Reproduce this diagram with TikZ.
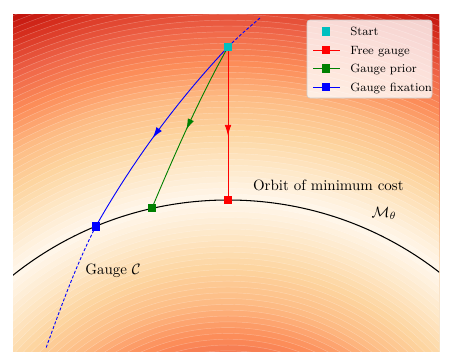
\documentclass[tikz,border=0pt]{standalone}
\usetikzlibrary{arrows.meta,decorations.markings}
\pgfdeclarelayer{bg}
\pgfdeclarelayer{lines}
\pgfsetlayers{bg,lines,main}
\definecolor{mblue}{RGB}{0,0,255}
\definecolor{mgreen}{RGB}{0,128,0}
\definecolor{mred}{RGB}{255,0,0}
\definecolor{mcyan}{RGB}{0,191,191}
\definecolor{legborder}{RGB}{204,204,204}
\newcommand\myorrd[2]{%
  \pgfmathsetmacro\myT{min(max(#1,0),0.9999)*8}%
  \pgfmathtruncatemacro\myI{floor(\myT)}%
  \pgfmathsetmacro\myF{\myT-\myI}%
  \pgfmathtruncatemacro\myR{round({255,254,253,253,252,239,215,179,127}[\myI]*(1-\myF)+{255,254,253,253,252,239,215,179,127}[\myI+1]*\myF)}%
  \pgfmathtruncatemacro\myG{round({247,232,212,187,141,101,48,0,0}[\myI]*(1-\myF)+{247,232,212,187,141,101,48,0,0}[\myI+1]*\myF)}%
  \pgfmathtruncatemacro\myB{round({236,200,158,132,89,72,31,0,0}[\myI]*(1-\myF)+{236,200,158,132,89,72,31,0,0}[\myI+1]*\myF)}%
  \definecolor{#2}{RGB}{\myR,\myG,\myB}%
}
\def\cx{228}
\def\cy{545}
\def\Rorb{345}
\def\dstep{5.8}
\def\tscale{272}
\tikzset{
  mk/.style={rectangle,minimum size=6pt,inner sep=0pt,draw=none},
  contour/.style={white,opacity=0.3,line width=0.3pt},
  curve/.style={line width=0.6pt},
  midarrow/.style={postaction={decorate},decoration={markings,mark=at position #1 with {\arrow{Latex[length=7.3pt,width=4.5pt]}}}},
  legbox/.style={draw=legborder,fill=white,fill opacity=0.8,rounded corners=2pt,minimum width=83.5pt,minimum height=52.1pt,inner sep=0pt},
  legtext/.style={font=\footnotesize,anchor=base west,inner sep=0pt},
  lbl/.style={inner sep=0pt}
}
\begin{document}
\begin{tikzpicture}[x=0.668pt,y=-0.668pt]
\useasboundingbox (0,0) rectangle (451,361);
\begin{pgfonlayer}{bg}
  \fill[white] (0,0) rectangle (451,361);
  \begin{scope}
    \clip (13,14) rectangle (439,351);
    \foreach \k in {40,39,...,1}{
      \pgfmathsetmacro\tval{(\k-0.5)*\dstep/\tscale}
      \myorrd{\tval}{bandcol}
      \fill[bandcol] (\cx,\cy) circle[radius={\Rorb+\k*\dstep}];
    }
    \foreach \k in {1,...,28}{
      \pgfmathsetmacro\tval{(\k-0.5)*\dstep/\tscale}
      \myorrd{\tval}{bandcol}
      \fill[bandcol] (\cx,\cy) circle[radius={\Rorb-(\k-1)*\dstep}];
    }
    \foreach \k in {1,...,40}{
      \draw[contour] (\cx,\cy) circle[radius={\Rorb+\k*\dstep}];
    }
    \foreach \k in {1,...,28}{
      \draw[contour] (\cx,\cy) circle[radius={\Rorb-\k*\dstep}];
    }
  \end{scope}
\end{pgfonlayer}

% markers
\node[mk,fill=mcyan] (start) at (228,47) {};
\node[mk,fill=mred] (free) at (228,200) {};
\node[mk,fill=mgreen] (prior) at (152,208) {};
\node[mk,fill=mblue] (fix) at (96,226) {};
\coordinate (gtop) at (260,18);
\coordinate (gbot) at (46,348);

\begin{pgfonlayer}{lines}
  \begin{scope}
    \clip (13,14) rectangle (439,351);
    \draw[black,line width=0.7pt] (\cx,\cy) circle[radius=\Rorb];
  \end{scope}
  \draw[mred,curve,midarrow=0.58] (start.center) -- (free.center);
  \draw[mgreen,curve,midarrow=0.52] (start.center) .. controls (200,96.7) and (174,155.5) .. (prior.center);
  \draw[mblue,curve,midarrow=0.53] (start.center) .. controls (177,101) and (133,161) .. (fix.center);
  \draw[mblue,curve,dashed,dash pattern=on 2pt off 1.3pt] (gtop) .. controls (249.5,27) and (237.7,37) .. (start.center);
  \draw[mblue,curve,dashed,dash pattern=on 2pt off 1.3pt] (fix.center) .. controls (76,265) and (61,307) .. (gbot);
\end{pgfonlayer}

% labels
\node[lbl,anchor=base west] (orbit) at (252.7,190.7) {Orbit of minimum cost};
\node[lbl] (mtheta) at (384,213) {$\mathcal{M}_\theta$};
\node[lbl,anchor=base west] (gauge) at (85,274) {Gauge $\mathcal{C}$};

% legend
\node[legbox] (legend) at (369.5,59) {};
\node[mk,fill=mcyan] (lstart) at (326,31.5) {};
\node[legtext] (tstart) at (350,35.5) {Start};
\coordinate (lfreeA) at (313,50);
\coordinate (lfreeB) at (340,50);
\draw[mred,curve] (lfreeA) -- (lfreeB);
\node[mk,fill=mred] (lfree) at (326,50) {};
\node[legtext] (tfree) at (350,54) {Free gauge};
\coordinate (lpriorA) at (313,68.5);
\coordinate (lpriorB) at (340,68.5);
\draw[mgreen,curve] (lpriorA) -- (lpriorB);
\node[mk,fill=mgreen] (lprior) at (326,68.5) {};
\node[legtext] (tprior) at (350,72.5) {Gauge prior};
\coordinate (lfixA) at (313,87);
\coordinate (lfixB) at (340,87);
\draw[mblue,curve] (lfixA) -- (lfixB);
\node[mk,fill=mblue] (lfix) at (326,87) {};
\node[legtext] (tfix) at (350,91) {Gauge fixation};
\end{tikzpicture}
\end{document}
